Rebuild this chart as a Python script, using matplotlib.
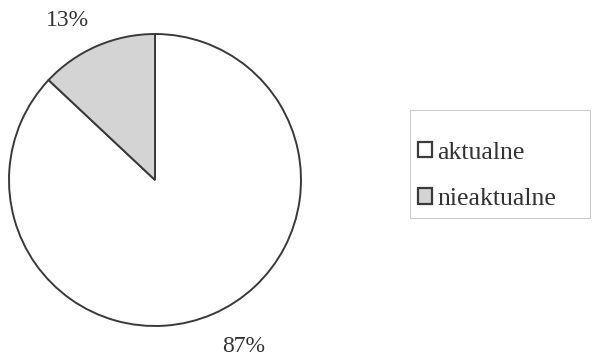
import math
import matplotlib
matplotlib.use("Agg")
import matplotlib.pyplot as plt
from matplotlib.patches import Rectangle

plt.rcParams['font.family'] = ['Liberation Serif', 'DejaVu Serif']

categories = ["aktualne", "nieaktualne"]
shares = [87, 13]
colors = ["#ffffff", "#d4d4d4"]

fig = plt.figure(figsize=(6.09, 3.58), dpi=100)
W, H = 609, 358
cx, cy, r = 155, 180, 146
ax = fig.add_axes([(cx - r) / W, (H - cy - r) / H, 2 * r / W, 2 * r / H])
ax.set_aspect('equal')

wedges, texts, autotexts = ax.pie(
    shares, colors=colors, startangle=90, counterclock=False,
    autopct=lambda p: f"{p:.0f}%", pctdistance=1.29,
    wedgeprops=dict(edgecolor="#3a3a3a", linewidth=1.4),
    textprops=dict(fontsize=17, color="#333333"),
    radius=1.0)
ax.set_xlim(-1, 1)
ax.set_ylim(-1, 1)

# percent labels sit slightly rotated from each wedge's mid-angle
label_dist = [1.29, 1.25]
label_turn = [4.5, 5.4]
for w, t, d, turn in zip(wedges, autotexts, label_dist, label_turn):
    mid = math.radians((w.theta1 + w.theta2) / 2 + turn)
    t.set_position((d * math.cos(mid), d * math.sin(mid)))
    t.set_clip_on(False)

# legend frame drawn separately so entries can sit low inside it
fig.patches.append(Rectangle((410 / W, (H - 218) / H), 180 / W, 108 / H,
                             transform=fig.transFigure, facecolor="white",
                             edgecolor="#cccccc", linewidth=0.8, zorder=0))

leg = fig.legend(wedges, categories, loc='center left',
                 bbox_to_anchor=(418 / W, (H - 176) / H),
                 borderaxespad=0, borderpad=0,
                 fontsize=18.5, frameon=False,
                 handlelength=0.55, handleheight=0.55,
                 handletextpad=0.2, labelspacing=0.95)
for t in leg.get_texts():
    t.set_color("#333333")
for h in leg.legend_handles:
    h.set_linewidth(1.6)

fig.savefig("out.png", dpi=100)
